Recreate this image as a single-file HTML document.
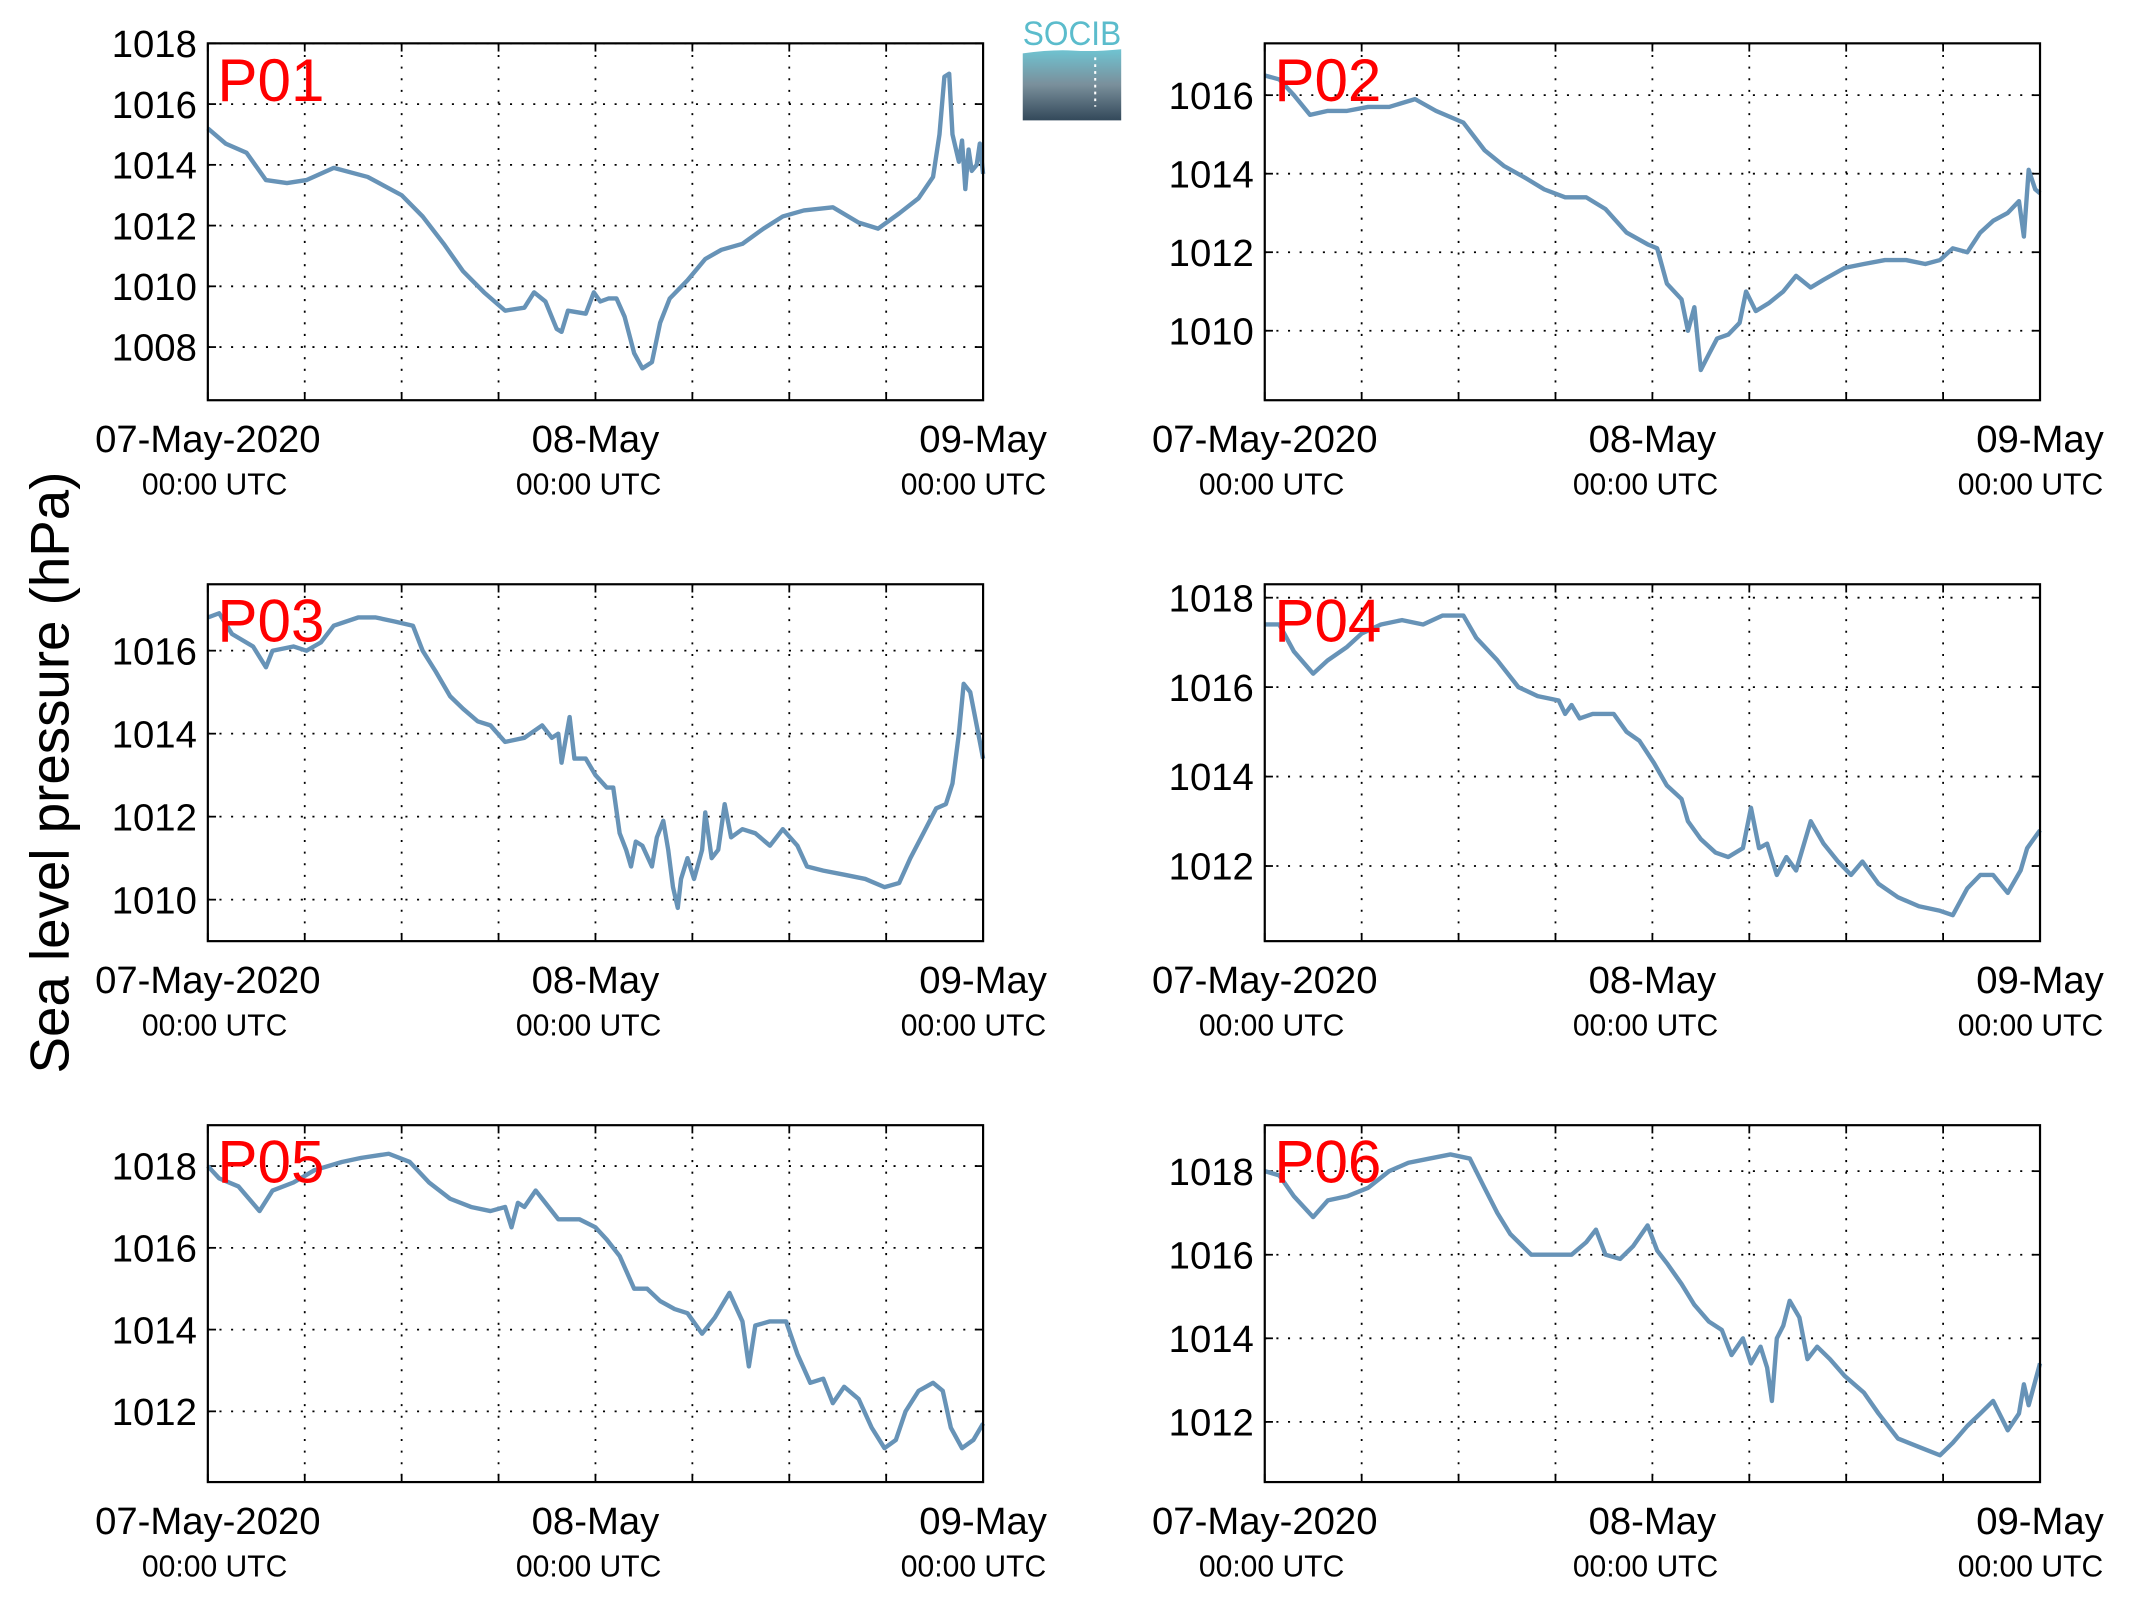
<!DOCTYPE html>
<html><head><meta charset="utf-8">
<style>
html,body{margin:0;padding:0;background:#fff;}
svg{display:block;}
text{font-family:"Liberation Sans",sans-serif;}
</style></head>
<body>
<svg id="chart" width="2133" height="1608" viewBox="0 0 1560 1176" preserveAspectRatio="none" xmlns="http://www.w3.org/2000/svg">
<defs>
<linearGradient id="lg" x1="0" y1="0" x2="0" y2="1">
<stop offset="0" stop-color="#6fc4d2"/><stop offset="0.5" stop-color="#7a8f9b"/><stop offset="1" stop-color="#33495a"/>
</linearGradient>
</defs>
<g>
<text x="784" y="33" font-size="25" fill="#5bbccc" text-anchor="middle" textLength="72" lengthAdjust="spacingAndGlyphs">SOCIB</text>
<path d="M748,39 Q770,36 785,37 Q800,38 820,36 L820,88 L748,88 Z" fill="url(#lg)"/>
<line x1="801" y1="42" x2="801" y2="78" stroke="#fff" stroke-width="1.5" stroke-dasharray="2,3"/>
</g>
<text transform="translate(50,565) rotate(-90)" font-size="40" text-anchor="middle">Sea level pressure (hPa)</text>
<g id="panels"></g>
</svg>
<script>
const p01Hours=[0,1.1,2.4,3.6,4.9,6.1,7.8,9.9,12.0,13.3,14.6,15.8,17.1,18.4,19.6,20.2,20.9,21.6,21.9,22.3,23.4,23.9,24.3,24.8,25.3,25.8,26.4,26.9,27.5,28.0,28.6,29.7,30.8,31.8,33.1,34.4,35.6,36.9,38.7,40.3,41.5,42.8,44.0,44.9,45.3,45.6,45.9,46.1,46.5,46.7,46.9,47.1,47.3,47.6,47.8,48];
const p01Values=[1015.2,1014.7,1014.4,1013.5,1013.4,1013.5,1013.9,1013.6,1013.0,1012.3,1011.4,1010.5,1009.8,1009.2,1009.3,1009.8,1009.5,1008.6,1008.5,1009.2,1009.1,1009.8,1009.5,1009.6,1009.6,1009.0,1007.8,1007.3,1007.5,1008.8,1009.6,1010.2,1010.9,1011.2,1011.4,1011.9,1012.3,1012.5,1012.6,1012.1,1011.9,1012.4,1012.9,1013.6,1015.0,1016.9,1017.0,1015.0,1014.1,1014.8,1013.2,1014.5,1013.8,1014.0,1014.7,1013.7];
const p02Hours=[0,0.9,1.8,2.8,3.9,5.1,6.4,7.7,9.3,10.6,12.3,13.6,14.8,16.1,17.3,18.6,19.9,21.1,22.4,23.7,24.3,24.9,25.8,26.2,26.6,27.0,27.5,28.0,28.7,29.4,29.8,30.4,31.2,32.1,32.9,33.8,34.6,35.9,37.1,38.4,39.7,40.9,41.8,42.6,43.5,44.3,45.1,46.0,46.7,47.0,47.3,47.7,48];
const p02Values=[1016.5,1016.4,1016.0,1015.5,1015.6,1015.6,1015.7,1015.7,1015.9,1015.6,1015.3,1014.6,1014.2,1013.9,1013.6,1013.4,1013.4,1013.1,1012.5,1012.2,1012.1,1011.2,1010.8,1010.0,1010.6,1009.0,1009.4,1009.8,1009.9,1010.2,1011.0,1010.5,1010.7,1011.0,1011.4,1011.1,1011.3,1011.6,1011.7,1011.8,1011.8,1011.7,1011.8,1012.1,1012.0,1012.5,1012.8,1013.0,1013.3,1012.4,1014.1,1013.6,1013.5];
const p03Hours=[0,0.7,1.5,2.8,3.6,4.0,5.3,6.1,7.0,7.8,9.3,10.4,11.6,12.7,13.3,14.1,15.0,15.8,16.7,17.5,18.4,19.6,20.7,21.3,21.7,21.9,22.4,22.7,23.4,24.0,24.7,25.1,25.5,25.9,26.2,26.5,26.9,27.5,27.8,28.2,28.5,28.8,29.1,29.3,29.7,30.1,30.6,30.8,31.2,31.6,32.0,32.4,33.1,33.9,34.8,35.6,36.5,37.1,38.1,39.4,40.7,41.9,42.8,43.5,44.3,45.1,45.7,46.1,46.5,46.8,47.2,47.7,48];
const p03Values=[1016.8,1016.9,1016.4,1016.1,1015.6,1016.0,1016.1,1016.0,1016.2,1016.6,1016.8,1016.8,1016.7,1016.6,1016.0,1015.5,1014.9,1014.6,1014.3,1014.2,1013.8,1013.9,1014.2,1013.9,1014.0,1013.3,1014.4,1013.4,1013.4,1013.0,1012.7,1012.7,1011.6,1011.2,1010.8,1011.4,1011.3,1010.8,1011.5,1011.9,1011.2,1010.3,1009.8,1010.5,1011.0,1010.5,1011.2,1012.1,1011.0,1011.2,1012.3,1011.5,1011.7,1011.6,1011.3,1011.7,1011.3,1010.8,1010.7,1010.6,1010.5,1010.3,1010.4,1011.0,1011.6,1012.2,1012.3,1012.8,1014.0,1015.2,1015.0,1014.0,1013.4];
const p04Hours=[0,0.9,1.8,3.0,3.9,5.1,6.0,7.2,8.5,9.8,11.0,12.3,13.1,14.4,15.7,16.9,18.2,18.6,19.0,19.5,20.3,21.6,22.4,23.2,24.1,24.9,25.8,26.2,27.0,27.9,28.7,29.6,30.1,30.6,31.1,31.7,32.3,32.9,33.8,34.6,35.5,36.3,37.0,38.0,39.2,40.5,41.8,42.6,43.5,44.3,45.1,46.0,46.8,47.2,48];
const p04Values=[1017.4,1017.4,1016.8,1016.3,1016.6,1016.9,1017.2,1017.4,1017.5,1017.4,1017.6,1017.6,1017.1,1016.6,1016.0,1015.8,1015.7,1015.4,1015.6,1015.3,1015.4,1015.4,1015.0,1014.8,1014.3,1013.8,1013.5,1013.0,1012.6,1012.3,1012.2,1012.4,1013.3,1012.4,1012.5,1011.8,1012.2,1011.9,1013.0,1012.5,1012.1,1011.8,1012.1,1011.6,1011.3,1011.1,1011.0,1010.9,1011.5,1011.8,1011.8,1011.4,1011.9,1012.4,1012.8];
const p05Hours=[0,0.7,1.9,3.2,4.0,5.3,6.6,8.3,9.5,11.2,12.5,13.7,15.0,16.3,17.5,18.4,18.8,19.2,19.6,20.3,20.9,21.7,23.0,24.0,24.7,25.5,26.4,27.2,28.0,28.9,29.7,30.6,31.4,32.3,33.1,33.5,33.9,34.8,35.8,36.5,37.3,38.1,38.7,39.4,40.3,41.1,41.9,42.6,43.2,44.0,44.9,45.5,46.0,46.7,47.4,48];
const p05Values=[1018.0,1017.7,1017.5,1016.9,1017.4,1017.6,1017.9,1018.1,1018.2,1018.3,1018.1,1017.6,1017.2,1017.0,1016.9,1017.0,1016.5,1017.1,1017.0,1017.4,1017.1,1016.7,1016.7,1016.5,1016.2,1015.8,1015.0,1015.0,1014.7,1014.5,1014.4,1013.9,1014.3,1014.9,1014.2,1013.1,1014.1,1014.2,1014.2,1013.4,1012.7,1012.8,1012.2,1012.6,1012.3,1011.6,1011.1,1011.3,1012.0,1012.5,1012.7,1012.5,1011.6,1011.1,1011.3,1011.7];
const p06Hours=[0,0.9,1.8,3.0,3.9,5.1,6.4,7.7,8.9,10.2,11.5,12.7,13.6,14.4,15.2,16.5,17.8,19.0,19.9,20.5,21.1,22.0,22.8,23.7,24.3,24.9,25.8,26.6,27.5,28.3,28.9,29.6,30.1,30.7,31.1,31.4,31.7,32.1,32.5,33.1,33.6,34.2,35.0,35.9,37.1,38.0,39.2,40.5,41.8,42.6,43.5,44.3,45.1,46.0,46.7,47.0,47.3,48];
const p06Values=[1018.0,1017.9,1017.4,1016.9,1017.3,1017.4,1017.6,1018.0,1018.2,1018.3,1018.4,1018.3,1017.6,1017.0,1016.5,1016.0,1016.0,1016.0,1016.3,1016.6,1016.0,1015.9,1016.2,1016.7,1016.1,1015.8,1015.3,1014.8,1014.4,1014.2,1013.6,1014.0,1013.4,1013.8,1013.3,1012.5,1014.0,1014.3,1014.9,1014.5,1013.5,1013.8,1013.5,1013.1,1012.7,1012.2,1011.6,1011.4,1011.2,1011.5,1011.9,1012.2,1012.5,1011.8,1012.2,1012.9,1012.4,1013.4];
const panelNames=["P01","P02","P03","P04","P05","P06"];
const yMins=[1006.25,1008.23,1009.0,1010.32,1010.27,1010.56];
const yMaxs=[1018.0,1017.32,1017.6,1018.3,1019.0,1019.1];
const yTicks1=[1008,1010,1012,1014,1016,1018];
const yTicks2=[1010,1012,1014,1016];
const yTicks3=[1010,1012,1014,1016];
const yTicks4=[1012,1014,1016,1018];
const yTicks5=[1012,1014,1016,1018];
const yTicks6=[1012,1014,1016,1018];
const dateLabels=["07-May-2020","08-May","09-May"];
const dateHours=[0,24,48];
const gridHours=[0,6,12,18,24,30,36,42,48];

const allHours=[p01Hours,p02Hours,p03Hours,p04Hours,p05Hours,p06Hours];
const allValues=[p01Values,p02Values,p03Values,p04Values,p05Values,p06Values];
const allTicks=[yTicks1,yTicks2,yTicks3,yTicks4,yTicks5,yTicks6];
const NS="http://www.w3.org/2000/svg";
const root=document.getElementById('panels');
function mk(tag,attrs,parent){const e=document.createElementNS(NS,tag);for(const k in attrs)e.setAttribute(k,attrs[k]);parent.appendChild(e);return e;}
const W=567,H=261;
for(let i=0;i<6;i++){
  const col=i%2,row=Math.floor(i/2);
  const x0=col===0?152:925, y0=31.7+row*395.6;
  const g=mk('g',{},root);
  
  
  const xs=h=>x0+h/48*W;
  const ys=v=>y0+H-(v-yMins[i])/(yMaxs[i]-yMins[i])*H;
  gridHours.forEach(h=>{
    const x=xs(h);
    if(h>0&&h<48){const l=mk('line',{x1:x,y1:y0,x2:x,y2:y0+H,stroke:'#000','stroke-width':1.3,'stroke-dasharray':'1.5,7'},g);
    }
    mk('line',{x1:x,y1:y0+H,x2:x,y2:y0+H-6,stroke:'#000','stroke-width':1.3},g);
    mk('line',{x1:x,y1:y0,x2:x,y2:y0+6,stroke:'#000','stroke-width':1.3},g);
  });
  allTicks[i].forEach(v=>{
    const y=ys(v);
    const l=mk('line',{x1:x0,y1:y,x2:x0+W,y2:y,stroke:'#000','stroke-width':1.3,'stroke-dasharray':'1.5,7'},g);
    
    mk('line',{x1:x0,y1:y,x2:x0+6,y2:y,stroke:'#000','stroke-width':1.3},g);
    mk('line',{x1:x0+W,y1:y,x2:x0+W-6,y2:y,stroke:'#000','stroke-width':1.3},g);
    const t=mk('text',{x:x0-8,y:y+10,'font-size':28,'text-anchor':'end'},g);
    t.textContent=v;
    
  });
  dateHours.forEach((h,k)=>{
    const x=xs(h)+(k===2?0:0);
    const t=mk('text',{x:x,y:y0+H+38,'font-size':28,'text-anchor':'middle'},g);
    t.textContent=dateLabels[k];
    
    const u=mk('text',{x:x+(k===0?5:(k===1?-5:-7)),y:y0+H+69,'font-size':22,'text-anchor':'middle'},g);
    u.textContent='00:00 UTC';
    
  });
  const hs=allHours[i],vs=allValues[i];
  let d='';
  for(let j=0;j<hs.length;j++){d+=(j?'L':'M')+xs(hs[j]).toFixed(1)+','+ys(vs[j]).toFixed(1);}
  const p=mk('path',{d:d,fill:'none',stroke:'#6793b7','stroke-width':3.2,'stroke-linejoin':'round'},g);
  
  
  const box=mk('rect',{x:x0,y:y0,width:W,height:H,fill:'none',stroke:'#000','stroke-width':1.6},g);
  
  const lab=mk('text',{x:x0+7,y:y0+42,'font-size':44,fill:'#ff0000'},g);
  lab.textContent=panelNames[i];
  
}
</script>
</body></html>
